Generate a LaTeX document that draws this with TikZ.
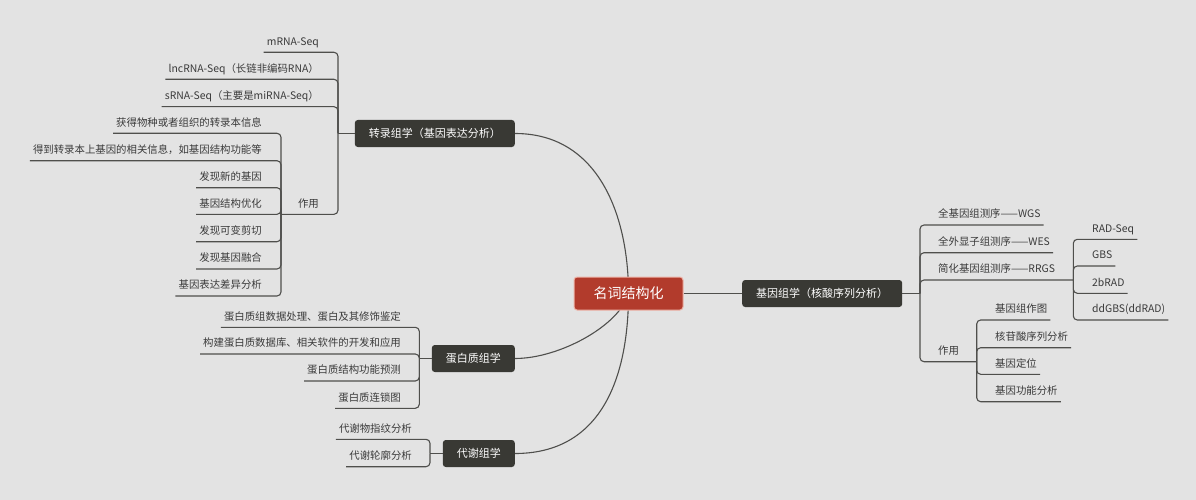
\documentclass[tikz,border=0pt]{standalone}
\usepackage{fontspec}
\newfontfamily\cjk{Noto Sans CJK SC}
\usetikzlibrary{positioning}
\definecolor{bgcol}{HTML}{E3E3E3}
\definecolor{linecol}{HTML}{4F4F4C}
\definecolor{topiccol}{HTML}{393934}
\definecolor{rootcol}{HTML}{B23B2C}
\definecolor{rootedge}{HTML}{EDB3A8}
\definecolor{leafcol}{HTML}{3A3A3A}

\begin{document}
\begin{tikzpicture}[
  x=1pt, y=-1pt,
  root/.style={
    rectangle,
    draw=rootedge,
    line width=1pt,
    fill=rootcol,
    rounded corners=3pt,
    text=white,
    minimum width=109pt,
    minimum height=33pt,
    font=\cjk\fontsize{14}{16}\selectfont
  },
  topic/.style={
    rectangle,
    fill=topiccol,
    rounded corners=3pt,
    text=white,
    minimum height=27pt,
    inner xsep=14pt,
    font=\cjk\fontsize{11}{13}\selectfont
  },
  leaf/.style={
    inner xsep=3pt,
    inner ysep=5pt,
    text height=7.5pt,
    text depth=2pt,
    text=leafcol,
    font=\cjk\fontsize{10.4}{12}\selectfont
  },
  branch/.style={draw=linecol, line width=1.1pt, rounded corners=4pt},
  curve/.style={draw=linecol, line width=1.1pt}
]

\useasboundingbox (0,0) rectangle (1196,500);
\fill[bgcol] (0,0) rectangle (1196,500);

% main topics
\coordinate (c) at (628.5,293.5);
\node[topic, anchor=east] (trans) at (515,133.5) {转录组学（基因表达分析）};
\node[topic, anchor=west] (genome) at (742,293.5) {基因组学（核酸序列分析）};
\node[topic, anchor=east] (protein) at (515,358.5) {蛋白质组学};
\node[topic, anchor=east] (metab) at (515,453.5) {代谢组学};

% hubs
\coordinate (thub) at (338,133.5);
\coordinate (tzhub) at (281,214.3);
\coordinate (phub) at (419.3,358.5);
\coordinate (mhub) at (430,453.5);
\coordinate (ghub) at (920,293.5);
\coordinate (rrhub) at (1073.3,280);
\coordinate (gzhub) at (976.7,361.7);

% transcriptome
\node[leaf, anchor=south east] (mrna) at (322,52.3) {mRNA-Seq};
\node[leaf, anchor=south east] (lnc) at (322,79.3) {lncRNA-Seq（长链非编码RNA）};
\node[leaf, anchor=south east] (srna) at (322,106.7) {sRNA-Seq（主要是miRNA-Seq）};
\node[leaf, anchor=south east] (tuse) at (322,214.3) {作用};
\node[leaf, anchor=south east] (tu1) at (265,133.3) {获得物种或者组织的转录本信息};
\node[leaf, anchor=south east] (tu2) at (265,160.7) {得到转录本上基因的相关信息，如基因结构功能等};
\node[leaf, anchor=south east] (tu3) at (265,187.7) {发现新的基因};
\node[leaf, anchor=south east] (tu4) at (265,214.3) {基因结构优化};
\node[leaf, anchor=south east] (tu5) at (265,241.7) {发现可变剪切};
\node[leaf, anchor=south east] (tu6) at (265,269) {发现基因融合};
\node[leaf, anchor=south east] (tu7) at (265,296) {基因表达差异分析};

\draw[branch] (trans.west) -- (thub);
\draw[branch] (thub) |- (mrna.south west);
\draw[branch] (thub) |- (lnc.south west);
\draw[branch] (thub) |- (srna.south west);
\draw[branch] (thub) |- (tzhub);
\draw[branch] (tzhub) |- (tu1.south west);
\draw[branch] (tzhub) |- (tu2.south west);
\draw[branch] (tzhub) |- (tu3.south west);
\draw[branch] (tzhub) |- (tu4.south west);
\draw[branch] (tzhub) |- (tu5.south west);
\draw[branch] (tzhub) |- (tu6.south west);
\draw[branch] (tzhub) |- (tu7.south west);

% proteome
\node[leaf, anchor=south east] (p1) at (404,327.3) {蛋白质组数据处理、蛋白及其修饰鉴定};
\node[leaf, anchor=south east] (p2) at (404,354) {构建蛋白质数据库、相关软件的开发和应用};
\node[leaf, anchor=south east] (p3) at (404,381) {蛋白质结构功能预测};
\node[leaf, anchor=south east] (p4) at (404,408.3) {蛋白质连锁图};

\draw[branch] (protein.west) -- (phub);
\draw[branch] (phub) |- (p1.south west);
\draw[branch] (phub) |- (p2.south west);
\draw[branch] (phub) |- (p3.south west);
\draw[branch] (phub) |- (p4.south west);

% metabolome
\node[leaf, anchor=south east] (m1) at (415,439.3) {代谢物指纹分析};
\node[leaf, anchor=south east] (m2) at (415,466.7) {代谢轮廓分析};

\draw[branch] (metab.west) -- (mhub);
\draw[branch] (mhub) |- (m1.south west);
\draw[branch] (mhub) |- (m2.south west);

% genome
\node[leaf, anchor=south west] (g1) at (935,225) {全基因组测序——WGS};
\node[leaf, anchor=south west] (g2) at (935,252.7) {全外显子组测序——WES};
\node[leaf, anchor=south west] (g3) at (935,280) {简化基因组测序——RRGS};
\node[leaf, anchor=south west] (guse) at (935,361.7) {作用};
\node[leaf, anchor=south west] (r1) at (1089,239.3) {RAD-Seq};
\node[leaf, anchor=south west] (r2) at (1089,266) {GBS};
\node[leaf, anchor=south west] (r3) at (1089,293.3) {2bRAD};
\node[leaf, anchor=south west] (r4) at (1089,320) {ddGBS(ddRAD)};
\node[leaf, anchor=south west] (gu1) at (992,320) {基因组作图};
\node[leaf, anchor=south west] (gu2) at (992,347.7) {核苷酸序列分析};
\node[leaf, anchor=south west] (gu3) at (992,374.3) {基因定位};
\node[leaf, anchor=south west] (gu4) at (992,401.7) {基因功能分析};

\draw[branch] (genome.east) -- (ghub);
\draw[branch] (ghub) |- (g1.south east);
\draw[branch] (ghub) |- (g2.south east);
\draw[branch] (ghub) |- (rrhub);
\draw[branch] (ghub) |- (gzhub);
\draw[branch] (rrhub) |- (r1.south east);
\draw[branch] (rrhub) |- (r2.south east);
\draw[branch] (rrhub) |- (r3.south east);
\draw[branch] (rrhub) |- (r4.south east);
\draw[branch] (gzhub) |- (gu1.south east);
\draw[branch] (gzhub) |- (gu2.south east);
\draw[branch] (gzhub) |- (gu3.south east);
\draw[branch] (gzhub) |- (gu4.south east);

% curves to the centre
\draw[curve] (c) .. controls (628.5,218) and (600,133.5) .. (trans.east);
\draw[curve] (c) .. controls (620,325) and (560,358.5) .. (protein.east);
\draw[curve] (c) .. controls (628.5,380) and (600,453.5) .. (metab.east);

\node[root] (root) at (c) {名词结构化};
\draw[curve] (root.east) -- (genome.west);

\end{tikzpicture}
\end{document}
